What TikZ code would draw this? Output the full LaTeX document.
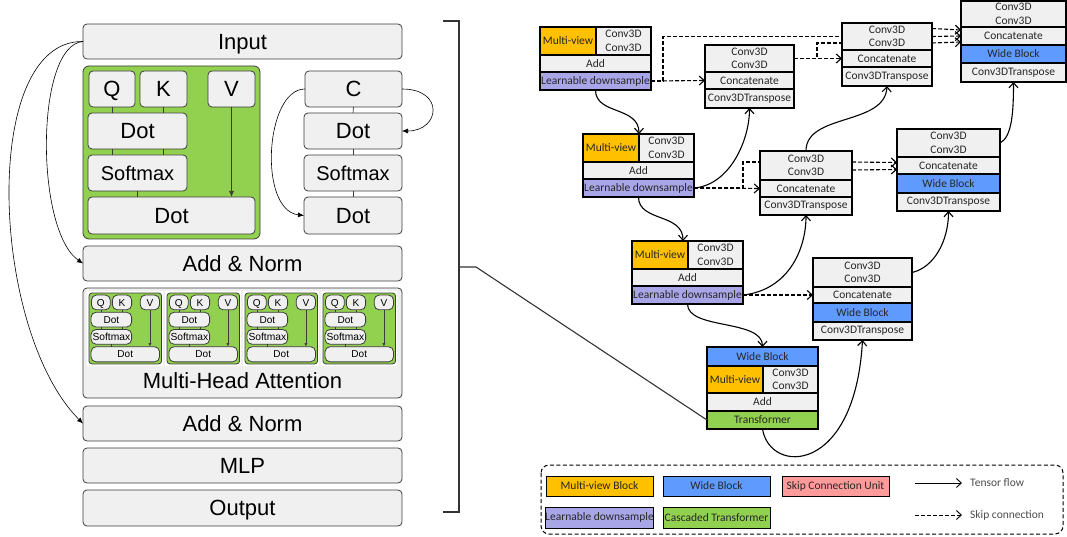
\documentclass[tikz,border=0pt]{standalone}
\usepackage{fontspec}
\newfontfamily\lsans{Liberation Sans}
\newfontfamily\csans{Carlito}
\usetikzlibrary{arrows.meta}

\definecolor{cellgray}{HTML}{F0F0F0}
\definecolor{edgegray}{HTML}{3C3C3C}
\definecolor{mvorange}{HTML}{FFC000}
\definecolor{wideblue}{HTML}{5F9BFF}
\definecolor{ldpurple}{HTML}{A9A6E8}
\definecolor{trgreen}{HTML}{92D050}
\definecolor{skippink}{HTML}{FF9B9B}

% box from corner (x1,y1) to corner (x2,y2): name, style, x1, y1, x2, y2, text
\newcommand\mkbox[7]{%
  \pgfmathsetmacro\mkw{#5-(#3)}%
  \pgfmathsetmacro\mkh{#6-(#4)}%
  \node[#2, minimum width=\mkw pt, minimum height=\mkh pt] (#1) at ({(#3+#5)/2},{(#4+#6)/2}) {#7};}

% one attention head: Q, K, V, Dot, Softmax, Dot on a green panel
\newcommand\attnblock[1]{%
  \fill[white] (-4,-4) rectangle (181,177);
  \mkbox{#1g}{agreen}{0}{0}{177}{173}{}
  \mkbox{#1q}{abox}{6}{5}{52}{41}{Q}
  \mkbox{#1k}{abox}{57}{5}{104}{41}{K}
  \mkbox{#1v}{abox}{125}{5}{172}{41}{V}
  \mkbox{#1d}{abox}{5}{47}{104}{83}{Dot}
  \mkbox{#1s}{asoft}{5}{89}{104}{125}{Softmax}
  \mkbox{#1o}{abox}{5}{131}{172}{168}{Dot}
  \draw[aline] (#1q.south) -- (#1q.south |- #1d.north);
  \draw[aline] (#1k.south) -- (#1k.south |- #1d.north);
  \draw[aline] (#1q.south |- #1d.south) -- (#1q.south |- #1s.north);
  \draw[aline] (#1k.south |- #1d.south) -- (#1k.south |- #1s.north);
  \draw[aline] (#1s.south) -- (#1s.south |- #1o.north);
  \draw[aline,aarrow] (#1v.south) -- (#1v.south |- #1o.north);
}

\tikzset{
  lbox/.style={draw=edgegray, line width=0.8pt, fill=cellgray, rounded corners=4pt,
    inner sep=0pt, outer sep=0pt, text height=15.8pt, text depth=0pt,
    font=\lsans\fontsize{22}{24}\selectfont},
  lsoft/.style={lbox, text height=14.4pt, font=\lsans\fontsize{20}{22}\selectfont},
  gbox/.style={draw=edgegray, line width=0.8pt, fill=trgreen, inner sep=0pt, outer sep=0pt},
  aline/.style={draw=edgegray, line width=0.7pt},
  larrow/.style={line width=0.6pt, -{Latex[length=6pt,width=5pt]}},
  rcell/.style={draw=black, line width=1.1pt, fill=cellgray, inner sep=0pt, outer sep=0pt,
    align=center, text=black!85, font=\csans\fontsize{11.5}{13.5}\selectfont},
  tflow/.style={line width=1.1pt, -{Straight Barb[length=5pt,width=9pt]}},
  skip/.style={tflow, dash pattern=on 4pt off 2pt},
  skipline/.style={line width=1.1pt, dash pattern=on 4pt off 2pt},
  bracket/.style={draw=black!80, line width=1.1pt},
  legtext/.style={anchor=west, inner sep=0pt, text=black!70, font=\csans\fontsize{11.5}{13}\selectfont}
}

\begin{document}
\begin{tikzpicture}[x=1pt, y=-1pt]
\useasboundingbox (0,0) rectangle (1067,537);

% ---------------- transformer encoder layer ----------------
\mkbox{input}{lbox}{83}{24}{402}{59}{Input}

\begin{scope}[shift={(83,66)},
  abox/.style={lbox},
  asoft/.style={lsoft},
  aarrow/.style={-{Latex[length=6pt,width=5pt]}},
  agreen/.style={gbox, rounded corners=6pt}]
  \attnblock{a}
\end{scope}

\mkbox{c}{lbox}{305}{71}{402}{107}{C}
\mkbox{cd}{lbox}{304}{113}{402}{149}{Dot}
\mkbox{cs}{lsoft}{304}{155}{402}{191}{Softmax}
\mkbox{co}{lbox}{304}{197}{402}{234}{Dot}
\draw[aline] (c.south) -- (cd.north);
\draw[aline] (cd.south) -- (cs.north);
\draw[aline] (cs.south) -- (co.north);
\draw[larrow] (c.west) .. controls (265,89) and (258,210) .. (co.west);
\draw[larrow] (c.east) .. controls (445,89) and (440,131) .. (cd.east);

\mkbox{an1}{lbox}{83}{246}{402}{281}{Add \& Norm}
\mkbox{mha}{lbox}{83}{288}{402}{398}{}
\foreach \i/\hx in {1/89,2/167,3/245,4/323}{
  \begin{scope}[shift={(\hx,293)}, scale=0.41, transform shape,
    abox/.style={lbox, rounded corners=5pt, text height=17.6pt, font=\lsans\fontsize{24.5}{26}\selectfont},
    asoft/.style={lbox, rounded corners=5pt, text height=18pt, font=\lsans\fontsize{25}{26}\selectfont},
    aarrow/.style={-{Latex[length=3.5pt,width=3pt]}},
    agreen/.style={gbox, rounded corners=3pt}]
    \attnblock{h\i}
  \end{scope}
}
\node[inner sep=0pt, font=\lsans\fontsize{22}{24}\selectfont] (mhalabel) at (242.5,381) {Multi-Head Attention};
\mkbox{an2}{lbox}{83}{406}{402}{441}{Add \& Norm}
\mkbox{mlp}{lbox}{83}{448}{402}{483}{MLP}
\mkbox{out}{lbox}{83}{490}{402}{526}{Output}

\draw[larrow] (input.west) .. controls (35,45) and (35,230) .. (an1.west);
\draw[larrow] (input.west) .. controls (-20,40) and (-10,330) .. (an2.west);

% ---------------- encoder path ----------------
\mkbox{e1mv}{rcell, fill=mvorange}{540}{27}{596}{55}{Multi-view}
\mkbox{e1cv}{rcell}{596}{27}{651}{55}{Conv3D\\Conv3D}
\mkbox{e1add}{rcell}{540}{55}{651}{72}{Add}
\mkbox{e1ld}{rcell, fill=ldpurple}{540}{72}{651}{90}{Learnable downsample}

\mkbox{e2mv}{rcell, fill=mvorange}{583}{134}{639}{162}{Multi-view}
\mkbox{e2cv}{rcell}{639}{134}{694}{162}{Conv3D\\Conv3D}
\mkbox{e2add}{rcell}{583}{162}{694}{179}{Add}
\mkbox{e2ld}{rcell, fill=ldpurple}{583}{179}{694}{197}{Learnable downsample}

\mkbox{e3mv}{rcell, fill=mvorange}{632}{241}{688}{269}{Multi-view}
\mkbox{e3cv}{rcell}{688}{241}{743}{269}{Conv3D\\Conv3D}
\mkbox{e3add}{rcell}{632}{269}{743}{286}{Add}
\mkbox{e3ld}{rcell, fill=ldpurple}{632}{286}{743}{304}{Learnable downsample}

% bottleneck
\mkbox{bwb}{rcell, fill=wideblue}{707}{347}{818}{366}{Wide Block}
\mkbox{bmv}{rcell, fill=mvorange}{707}{366}{763}{393}{Multi-view}
\mkbox{bcv}{rcell}{763}{366}{818}{393}{Conv3D\\Conv3D}
\mkbox{badd}{rcell}{707}{393}{818}{411}{Add}
\mkbox{btr}{rcell, fill=trgreen}{707}{411}{818}{429}{Transformer}

% ---------------- decoder nodes ----------------
\mkbox{d1cv}{rcell}{705}{45}{794}{72}{Conv3D\\Conv3D}
\mkbox{d1cc}{rcell}{705}{72}{794}{89}{Concatenate}
\mkbox{d1tp}{rcell}{705}{89}{794}{108}{Conv3DTranspose}

\mkbox{d2cv}{rcell}{842}{23}{932}{50}{Conv3D\\Conv3D}
\mkbox{d2cc}{rcell}{842}{50}{932}{67}{Concatenate}
\mkbox{d2tp}{rcell}{842}{67}{932}{86}{Conv3DTranspose}

\mkbox{d3cv}{rcell}{961}{1}{1066}{27}{Conv3D\\Conv3D}
\mkbox{d3cc}{rcell}{961}{27}{1066}{45}{Concatenate}
\mkbox{d3wb}{rcell, fill=wideblue}{961}{45}{1066}{63}{Wide Block}
\mkbox{d3tp}{rcell}{961}{63}{1066}{82}{Conv3DTranspose}

\mkbox{d5cv}{rcell}{760}{151}{852}{180}{Conv3D\\Conv3D}
\mkbox{d5cc}{rcell}{760}{180}{852}{197}{Concatenate}
\mkbox{d5tp}{rcell}{760}{197}{852}{215}{Conv3DTranspose}

\mkbox{d4cv}{rcell}{897}{129}{1000}{157}{Conv3D\\Conv3D}
\mkbox{d4cc}{rcell}{897}{157}{1000}{174}{Concatenate}
\mkbox{d4wb}{rcell, fill=wideblue}{897}{174}{1000}{193}{Wide Block}
\mkbox{d4tp}{rcell}{897}{193}{1000}{211}{Conv3DTranspose}

\mkbox{d6cv}{rcell}{813}{258}{912}{287}{Conv3D\\Conv3D}
\mkbox{d6cc}{rcell}{813}{287}{912}{303}{Concatenate}
\mkbox{d6wb}{rcell, fill=wideblue}{813}{303}{912}{322}{Wide Block}
\mkbox{d6tp}{rcell}{813}{322}{912}{340}{Conv3DTranspose}

% ---------------- tensor flow ----------------
\draw[tflow] (e1ld.south) .. controls +(0,25) and +(0,-28) .. (e2mv.north east);
\draw[tflow] (e2ld.south) .. controls +(0,25) and +(0,-28) .. ([xshift=-5pt]e3mv.north east);
\draw[tflow] (e3ld.south) .. controls +(0,26) and +(0,-28) .. (bwb.north);
\draw[tflow] (btr.south) .. controls +(7.5,46) and +(-7.5,135) .. (d6tp.south);
\draw[tflow] (e2ld.east) .. controls +(36,-3) and +(0,32) .. (d1tp.south);
\draw[tflow] (e3ld.east) .. controls +(45,-5) and +(0,35) .. (d5tp.south);
\draw[tflow] (d6cv.east) .. controls +(22,-5) and +(0,30) .. (d4tp.south);
\draw[tflow] (d5cv.north) .. controls +(0,-38) and +(-2,40) .. (d2tp.south);
\draw[tflow] (d4cv.east) .. controls +(12,-6) and +(0,30) .. (d3tp.south);

% ---------------- skip connections ----------------
\draw[skip] (e1ld.east) -- (d1cc.west);
\draw[skipline] (e1ld.east) -- ++(12,0) |- (d2cv.west);
\draw[skip] (d2cv.east) -- (d3cc.west);
\draw[skip] (d1cv.east) -- (d2cc.west);
\draw[skipline] (d1cv.east) -- ++(23,0) |- ([yshift=-6.5pt]d2cv.west);
\draw[skip] ([yshift=-6.5pt]d2cv.east) -- ([yshift=-6pt]d3cc.west);
\draw[skip] ([yshift=8pt]d2cv.east) -- ([yshift=6pt]d3cc.west);

\draw[skip] (e2ld.east) -- (d5cc.west);
\draw[skipline] (e2ld.east) -- ++(49,0) |- ([yshift=3.5pt]d5cv.west);
\draw[skip] ([yshift=-4.5pt]d5cv.east) -- ([yshift=-4pt]d4cc.west);
\draw[skip] ([yshift=3.5pt]d5cv.east) -- ([yshift=3pt]d4cc.west);

\draw[skip] (e3ld.east) -- (d6cc.west);

% ---------------- bracket linking both halves ----------------
\coordinate (bk1) at (443,21);
\coordinate (bk2) at (443,512);
\coordinate (bkm) at (459,267);
\coordinate (bkt) at (476,267);
\draw[bracket] (bk1) -- (bk1 -| bkm) -- (bk2 -| bkm) -- (bk2);
\draw[bracket] (bkm) -- (bkt) -- (btr.west);

% ---------------- legend ----------------
\draw[line width=1pt, dash pattern=on 4pt off 2.5pt, rounded corners=8pt] (541,465) rectangle (1063,534);
\mkbox{lg1}{rcell, line width=1pt, fill=mvorange}{546}{476}{653}{496}{Multi-view Block}
\mkbox{lg2}{rcell, line width=1pt, fill=wideblue}{663}{476}{770}{496}{Wide Block}
\mkbox{lg3}{rcell, line width=1pt, fill=skippink}{782}{476}{889}{496}{Skip Connection Unit}
\mkbox{lg4}{rcell, line width=1pt, fill=ldpurple}{546}{507}{653}{528}{Learnable downsample}
\mkbox{lg5}{rcell, line width=1pt, fill=trgreen}{663}{507}{770}{528}{Cascaded Transformer}
\coordinate (tfa) at (915,483);
\coordinate (tfb) at (962,483);
\coordinate (ska) at (915,515);
\coordinate (skb) at (962,515);
\draw[tflow, line width=0.9pt] (tfa) -- (tfb);
\draw[skip, line width=0.9pt] (ska) -- (skb);
\node[legtext] (tftext) at (970,483) {Tensor flow};
\node[legtext] (sktext) at (970,515) {Skip connection};
\end{tikzpicture}
\end{document}
